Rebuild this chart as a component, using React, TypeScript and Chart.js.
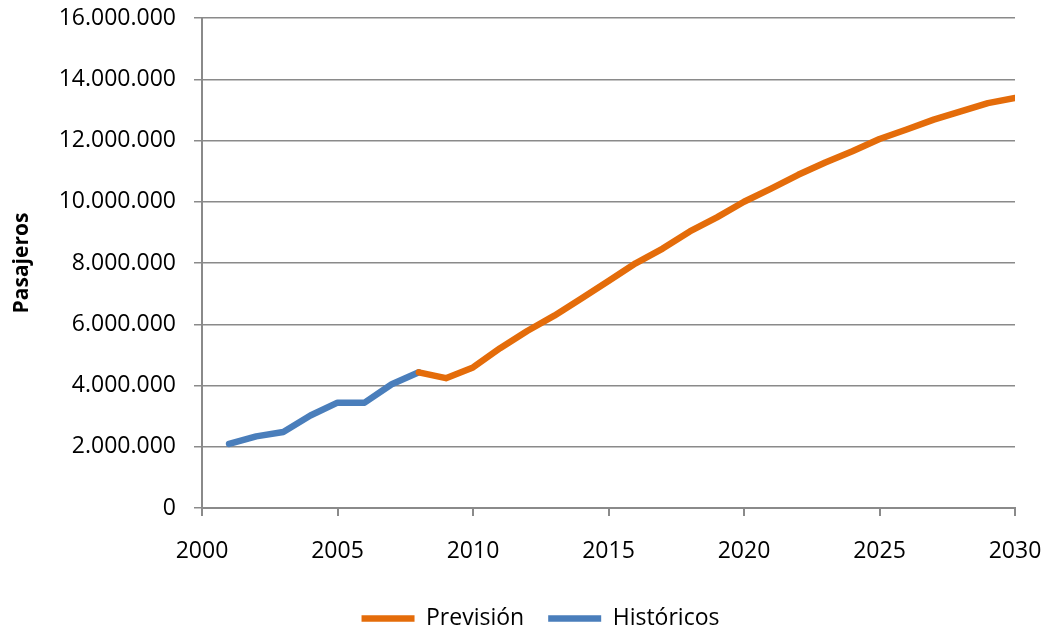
import React, { useEffect, useRef } from 'react';
import { Chart, registerables } from 'chart.js';

Chart.register(...registerables);

const seriesNames = ['Previsión', 'Históricos'];
const yTitle = 'Pasajeros';

const histYears = [2001, 2002, 2003, 2004, 2005, 2006, 2007, 2008];
const histValues = [2090000, 2340000, 2480000, 3020000, 3440000, 3440000, 4040000, 4430000];

const prevYears = [
  2008, 2009, 2010, 2011, 2012, 2013, 2014, 2015, 2016, 2017, 2018, 2019,
  2020, 2021, 2022, 2023, 2024, 2025, 2026, 2027, 2028, 2029, 2030,
];
const prevValues = [
  4430000, 4240000, 4590000, 5220000, 5780000, 6280000, 6840000, 7410000,
  7990000, 8470000, 9030000, 9490000, 10000000, 10430000, 10880000, 11280000,
  11650000, 12050000, 12360000, 12680000, 12950000, 13220000, 13390000,
];

const xTicks = [2000, 2005, 2010, 2015, 2020, 2025, 2030];
const yTicks = [0, 2000000, 4000000, 6000000, 8000000, 10000000, 12000000, 14000000, 16000000];

const ORANGE = '#E46C0A';
const BLUE = '#4A7EBB';
const GRID = '#8a8a8a';
const FONT = '"Open Sans", "DejaVu Sans", sans-serif';

const PLOT_LEFT = 202;
const LEGEND_SHIFT = 33;

function fmtThousands(v: number): string {
  return String(Math.round(v)).replace(/\B(?=(\d{3})+(?!\d))/g, '.');
}

const legendShiftPlugin = {
  id: 'legendShift',
  afterLayout(chart: any) {
    const lg = chart.legend;
    if (lg) {
      lg.left += LEGEND_SHIFT;
      lg.right += LEGEND_SHIFT;
    }
  },
};

export default function App() {
  const canvasRef = useRef<HTMLCanvasElement | null>(null);

  useEffect(() => {
    const canvas = canvasRef.current;
    if (!canvas) return;
    const chart = new Chart(canvas, {
      type: 'line',
      plugins: [legendShiftPlugin],
      data: {
        datasets: [
          {
            label: seriesNames[0],
            data: prevYears.map((x, i) => ({ x, y: prevValues[i] })),
            borderColor: ORANGE,
            backgroundColor: ORANGE,
            borderWidth: 6.5,
            pointRadius: 0,
            pointStyle: 'line',
            borderCapStyle: 'round',
            borderJoinStyle: 'round',
            tension: 0,
            fill: false,
          },
          {
            label: seriesNames[1],
            data: histYears.map((x, i) => ({ x, y: histValues[i] })),
            borderColor: BLUE,
            backgroundColor: BLUE,
            borderWidth: 6.5,
            pointRadius: 0,
            pointStyle: 'line',
            borderCapStyle: 'round',
            borderJoinStyle: 'round',
            tension: 0,
            fill: false,
          },
        ],
      },
      options: {
        animation: false,
        responsive: false,
        maintainAspectRatio: false,
        layout: { padding: { top: 18, right: 31, bottom: -9, left: 0 } },
        plugins: {
          tooltip: { enabled: false },
          legend: {
            position: 'bottom',
            labels: {
              usePointStyle: true,
              pointStyle: 'line',
              pointStyleWidth: 53,
              color: '#000',
              padding: 24,
              font: { family: FONT, size: 23 },
            },
          },
        },
        scales: {
          x: {
            type: 'linear',
            min: 2000,
            max: 2030,
            afterBuildTicks: (scale: any) => {
              scale.ticks = xTicks.map((v) => ({ value: v }));
            },
            afterFit: (scale: any) => {
              scale.paddingLeft = 0;
              scale.paddingRight = 0;
              scale.height = 75;
            },
            ticks: {
              callback: (v: any) => String(v),
              color: '#000',
              font: { family: FONT, size: 23 },
              padding: 22,
              maxRotation: 0,
            },
            grid: {
              drawOnChartArea: false,
              drawTicks: true,
              tickLength: 8,
              color: GRID,
              lineWidth: 2,
            },
            border: { color: GRID, width: 2 },
          },
          y: {
            type: 'linear',
            min: 0,
            max: 16000000,
            afterBuildTicks: (scale: any) => {
              scale.ticks = yTicks.map((v) => ({ value: v }));
            },
            afterFit: (scale: any) => {
              scale.width = PLOT_LEFT;
              scale.paddingTop = 0;
              scale.paddingBottom = 0;
            },
            ticks: {
              callback: (v: any) => fmtThousands(Number(v)),
              color: '#000',
              font: { family: FONT, size: 23 },
              padding: 18,
            },
            grid: {
              drawTicks: true,
              tickLength: 8,
              color: GRID,
              lineWidth: 1.5,
            },
            border: { color: GRID, width: 2 },
            title: {
              display: true,
              text: yTitle,
              color: '#000',
              font: { family: FONT, size: 21, weight: 'bold' },
              padding: { top: 9.4, bottom: 0 },
            },
          },
        },
      },
    });
    return () => chart.destroy();
  }, []);

  return (
    <div style={{ position: 'fixed', left: 0, top: 0, width: 1046, height: 631, background: '#fff' }}>
      <canvas ref={canvasRef} width={1046} height={631} style={{ display: 'block' }} />
    </div>
  );
}
